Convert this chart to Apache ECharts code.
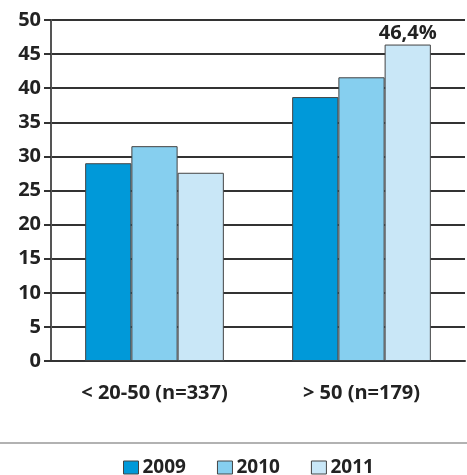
<!DOCTYPE html>
<html>
<head>
<meta charset="utf-8">
<script src="https://cdn.jsdelivr.net/npm/echarts@6/dist/echarts.min.js"></script>
<style>
  html, body { margin: 0; padding: 0; background: #fff; }
  #chart { width: 467px; height: 475px; }
</style>
</head>
<body>
<div id="chart"></div>
<script>
// data
var categories = ['< 20-50 (n=337)', '> 50 (n=179)']
var years = ['2009', '2010', '2011']
var values2009 = [29.0, 38.7]
var values2010 = [31.5, 41.6]
var values2011 = [27.6, 46.4]
var labelled = { '2011': 1 } // only this bar carries a value label
var colors = ['#0099d9', '#86cfef', '#c9e7f7']
var font = '"Open Sans", "DejaVu Sans", sans-serif'

var chart = echarts.init(document.getElementById('chart'))

function makeSeries(name, vals, color) {
  return {
    name: name,
    type: 'bar',
    barGap: 0,
    barCategoryGap: '33%',
    itemStyle: { color: color, borderColor: '#444', borderWidth: 1 },
    data: vals.map(function(v, i) {
      var item = { value: v }
      if (labelled[name] === i) {
        item.label = {
          show: true,
          position: 'top',
          distance: 1,
          color: '#222',
          fontFamily: font,
          fontWeight: 'bold',
          fontSize: 20,
          formatter: function(p) { return String(p.value).replace('.', ',') + '%' }
        }
      }
      return item
    }),
    animation: false
  }
}

chart.setOption({
  animation: false,
  grid: { left: 51, right: 2, top: 20, bottom: 114 },
  xAxis: {
    type: 'category',
    data: categories,
    axisLine: { lineStyle: { color: '#333', width: 2 } },
    axisTick: { show: false },
    axisLabel: {
      color: '#222',
      fontFamily: font,
      fontWeight: 'bold',
      fontSize: 20,
      margin: 22
    }
  },
  yAxis: {
    type: 'value',
    min: 0,
    max: 50,
    interval: 5,
    axisLine: { show: true, lineStyle: { color: '#555', width: 2 } },
    axisTick: { show: true, length: 7, lineStyle: { color: '#333', width: 2 } },
    splitLine: { lineStyle: { color: '#333', width: 2 } },
    axisLabel: {
      color: '#222',
      fontFamily: font,
      fontWeight: 'bold',
      fontSize: 20,
      margin: 10
    }
  },
  legend: {
    data: years,
    left: 118,
    top: 453,
    itemWidth: 15,
    itemHeight: 13,
    itemGap: 31,
    icon: 'rect',
    itemStyle: { borderColor: '#444', borderWidth: 1 },
    textStyle: { color: '#222', fontFamily: font, fontWeight: 'bold', fontSize: 19, padding: [0, 0, 0, -1] }
  },
  graphic: [{
    type: 'line',
    shape: { x1: 0, y1: 443, x2: 467, y2: 443 },
    style: { stroke: '#999', lineWidth: 1.5 }
  }],
  series: [
    makeSeries(years[0], values2009, colors[0]),
    makeSeries(years[1], values2010, colors[1]),
    makeSeries(years[2], values2011, colors[2])
  ]
})
</script>
</body>
</html>
